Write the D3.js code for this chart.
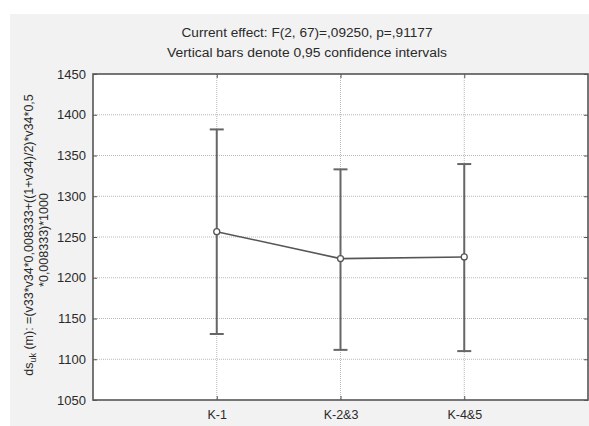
<!DOCTYPE html>
<html><head><meta charset="utf-8">
<script src="https://cdn.jsdelivr.net/npm/d3@7"></script>
<style>body{margin:0;background:#fff}svg{display:block}text{font-family:"Liberation Sans",Arial,sans-serif}</style>
</head><body><svg id="c" width="589" height="426"></svg>
<script>
const categories = ["K-1", "K-2&3", "K-4&5"];
const means = [1256.5, 1223.5, 1225.5];
const upper = [1382, 1333, 1339.5];
const lower = [1131, 1111.5, 1110];
const yTicks = [1050, 1100, 1150, 1200, 1250, 1300, 1350, 1400, 1450];
const titleLines = ["Current effect: F(2, 67)=,09250, p=,91177", "Vertical bars denote 0,95 confidence intervals"];

const svg = d3.select("#c");
const L = 93, R = 588, T = 74, B = 400;
svg.append("rect").attr("x", 10).attr("y", 14).attr("width", 579).attr("height", 412).attr("fill", "#f2f2f2");
svg.append("rect").attr("x", L).attr("y", T).attr("width", R - L).attr("height", B - T).attr("fill", "#fff");

const x = d3.scaleLinear().domain([0, 4]).range([L, R]);
const y = d3.scaleLinear().domain([1050, 1450]).range([B, T]);

// grid
const g = svg.append("g");
g.selectAll(".hg").data(yTicks.slice(1, -1)).join("line")
  .attr("x1", L).attr("x2", R).attr("y1", d => y(d)).attr("y2", d => y(d))
  .attr("stroke", "#b8b8b8").attr("stroke-width", 1).attr("stroke-dasharray", "1,1");
g.selectAll(".vg").data(categories).join("line")
  .attr("x1", (d, i) => x(i + 1)).attr("x2", (d, i) => x(i + 1)).attr("y1", T).attr("y2", B)
  .attr("stroke", "#b8b8b8").attr("stroke-width", 1).attr("stroke-dasharray", "1,1");

// axes
const yAxis = d3.axisLeft(y).tickValues(yTicks).tickFormat(d3.format("d")).tickSizeInner(-4).tickSizeOuter(0).tickPadding(7);
const ya = svg.append("g").attr("transform", `translate(${L},0)`).call(yAxis);
ya.select(".domain").remove();
ya.selectAll("line").attr("stroke", "#555");
ya.selectAll("text").attr("font-size", 13).attr("fill", "#2a2a2a");
const yr = svg.append("g").attr("transform", `translate(${R},0)`).call(d3.axisRight(y).tickValues(yTicks).tickSizeInner(-4).tickSizeOuter(0).tickFormat(""));
yr.select(".domain").remove(); yr.selectAll("line").attr("stroke", "#555");

const xAxis = d3.axisBottom(x).tickValues([1, 2, 3]).tickFormat(d => categories[d - 1]).tickSizeInner(-4).tickSizeOuter(0).tickPadding(10);
const xa = svg.append("g").attr("transform", `translate(0,${B})`).call(xAxis);
xa.select(".domain").remove();
xa.selectAll("line").attr("stroke", "#555");
xa.selectAll("text").attr("font-size", 12.5).attr("fill", "#2a2a2a");
const xt = svg.append("g").attr("transform", `translate(0,${T})`).call(d3.axisTop(x).tickValues([1, 2, 3]).tickSizeInner(-4).tickSizeOuter(0).tickFormat(""));
xt.select(".domain").remove(); xt.selectAll("line").attr("stroke", "#555");

svg.append("rect").attr("x", L).attr("y", T).attr("width", R - L).attr("height", B - T)
  .attr("fill", "none").attr("stroke", "#555").attr("stroke-width", 1.6);

// error bars
const eb = svg.append("g").attr("stroke", "#666").attr("stroke-width", 2);
categories.forEach((c, i) => {
  const cx = x(i + 1);
  eb.append("line").attr("x1", cx).attr("x2", cx).attr("y1", y(upper[i])).attr("y2", y(lower[i]));
  eb.append("line").attr("x1", cx - 7).attr("x2", cx + 7).attr("y1", y(upper[i])).attr("y2", y(upper[i]));
  eb.append("line").attr("x1", cx - 7).attr("x2", cx + 7).attr("y1", y(lower[i])).attr("y2", y(lower[i]));
});

// mean line
const line = d3.line().x((d, i) => x(i + 1)).y(d => y(d));
svg.append("path").datum(means).attr("d", line).attr("fill", "none").attr("stroke", "#555").attr("stroke-width", 1.6);
svg.selectAll(".pt").data(means).join("circle")
  .attr("cx", (d, i) => x(i + 1)).attr("cy", d => y(d)).attr("r", 3)
  .attr("fill", "#fff").attr("stroke", "#555").attr("stroke-width", 1.3);

// title
const tw = [251, 280];
svg.selectAll(".tt").data(titleLines).join("text")
  .attr("x", 307).attr("y", (d, i) => 37 + i * 20).attr("text-anchor", "middle")
  .attr("font-size", 12.5).attr("fill", "#2a2a2a")
  .attr("textLength", (d, i) => tw[i]).attr("lengthAdjust", "spacingAndGlyphs").text(d => d);

// y label
const yl = svg.append("text").attr("transform", `translate(33,${(T + B) / 2 - 2}) rotate(-90)`)
  .attr("text-anchor", "middle").attr("font-size", 12.5).attr("fill", "#2a2a2a");
yl.append("tspan").text("ds");
yl.append("tspan").attr("font-size", 9).attr("dy", 3).text("uk");
yl.append("tspan").attr("dy", -3).text(" (m): =(v33*v34*0,008333+((1+v34)/2)*v34*0,5");
svg.append("text").attr("transform", `translate(48,${(T + B) / 2 + 3}) rotate(-90)`)
  .attr("text-anchor", "middle").attr("font-size", 12.5).attr("fill", "#2a2a2a").text("*0,008333)*1000");
</script></body></html>
